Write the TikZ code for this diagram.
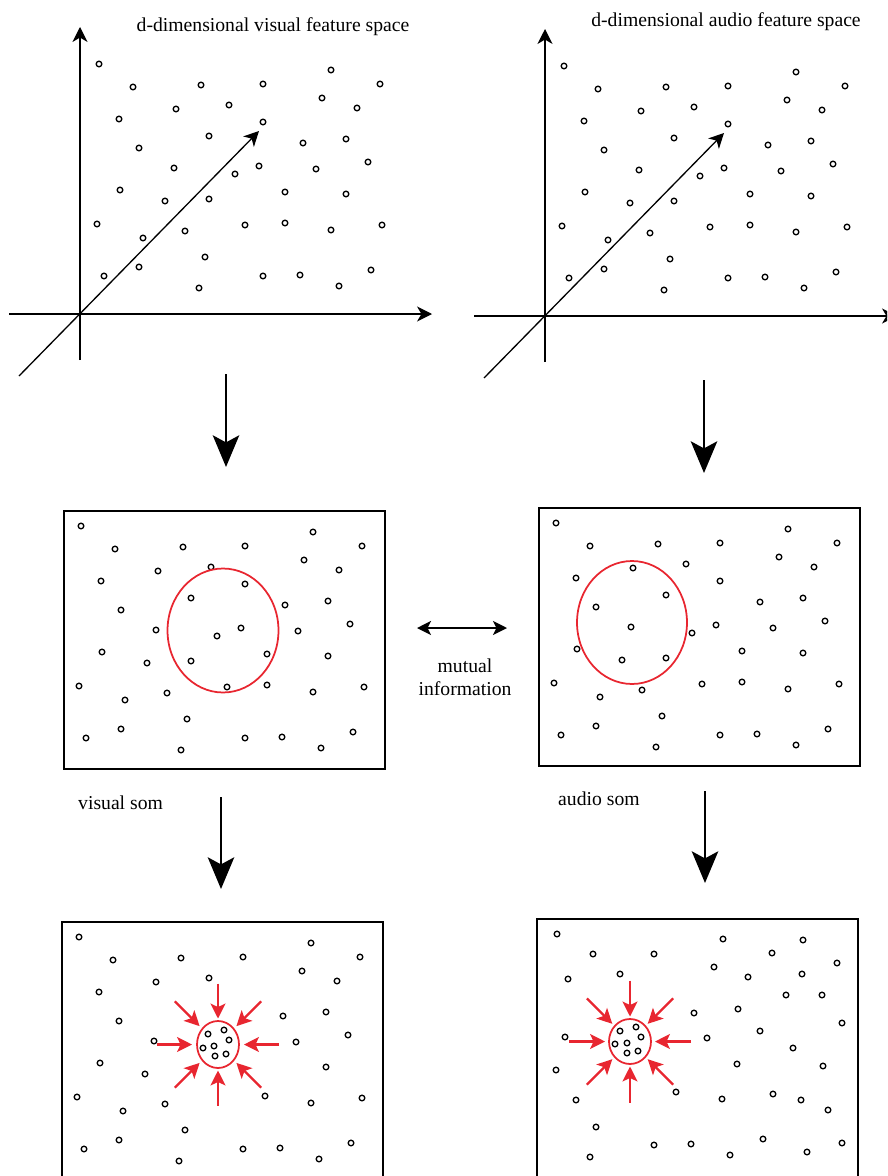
\documentclass[tikz,border=0pt]{standalone}
\usepackage{fontspec}
\setmainfont{Liberation Serif}
\usetikzlibrary{arrows.meta}
\definecolor{somred}{RGB}{232,38,48}
\newcommand\fieldrest{99/64,133/87,201/85,263/84,331/70,380/84,322/98,357/108,176/109,229/105,119/119,139/148,303/143,346/139,174/168,316/169,368/162,120/190,165/201,346/194,97/224,185/231,285/223,331/230,382/225,143/238,139/267,205/257,104/276,199/288,263/276,300/275,339/286,371/270}
\newcommand\fieldcore{263/122,209/136,235/174,259/166,209/199,285/192,245/225}
\newcommand\audiorest{557/934,593/954,654/954,723/939,803/940,772/953,837/963,568/979,620/974,714/967,748/977,802/974,786/995,822/995,694/1013,738/1009,842/1023,565/1037,707/1038,760/1031,793/1048,556/1070,737/1064,823/1066,576/1100,676/1092,722/1099,773/1094,801/1100,828/1110,596/1127,590/1157,654/1145,691/1144,730/1155,763/1139,807/1152,842/1143}
\newcommand\audiocore{620/1031,636/1027,641/1037,615/1044,627/1043,627/1053,638/1051}
\newcommand\visualcore{208/1034,224/1030,229/1040,203/1048,214/1046,215/1056,226/1054}

\begin{document}
\begin{tikzpicture}[x=0.02cm,y=-0.02cm,
  every node/.style={font=\fontsize{11.2}{13}\selectfont},
  pt/.style={draw,line width=0.75pt},
  axis/.style={line width=0.75pt,-{Stealth[length=8.5pt,width=8.5pt,inset=2.5pt]}},
  somframe/.style={draw,line width=0.9pt},
  ring/.style={draw=somred,line width=1pt},
  pull/.style={draw=somred,line width=1.3pt,-{Stealth[length=8.5pt,width=8.5pt,inset=2pt]}},
  stage/.style={line width=1.6pt,-{Stealth[length=18pt,width=15pt,inset=4pt]}},
  mutual/.style={line width=1.1pt,{Stealth[length=8pt,width=8pt,inset=2pt]}-{Stealth[length=8pt,width=8pt,inset=2pt]}}]
\useasboundingbox (0,0) rectangle (887,1176);
\clip (0,0) rectangle (887,1176);

\foreach \sx/\sy in {0/0,465/2}{
  \begin{scope}[shift={(\sx,\sy)}]
    \draw[axis] (80,360) -- (80,27);
    \draw[axis] (9,314) -- (432,314);
    \draw[axis] (19,376) -- (259,131);
    \foreach \x/\y in \fieldrest {\draw[pt] (\x,\y) circle[radius=1.6pt];}
    \foreach \x/\y in \fieldcore {\draw[pt] (\x,\y) circle[radius=1.6pt];}
  \end{scope}
}
\node (vtitle) at (273,27) {d-dimensional visual feature space};
\node (atitle) at (726,22) {d-dimensional audio feature space};

\foreach \sx/\sy in {-18/462,457/459,-20/873}{
  \begin{scope}[shift={(\sx,\sy)}]
    \foreach \x/\y in \fieldrest {\draw[pt] (\x,\y) circle[radius=1.6pt];}
  \end{scope}
}
\foreach \sx/\sy in {-18/462,457/459}{
  \begin{scope}[shift={(\sx,\sy)}]
    \foreach \x/\y in \fieldcore {\draw[pt] (\x,\y) circle[radius=1.6pt];}
  \end{scope}
}
\draw[somframe] (64,511) rectangle (385,769);
\draw[somframe] (539,508) rectangle (860,766);
\draw[somframe] (62,922) rectangle (383,1190);
\draw[somframe] (537,919) rectangle (858,1190);
\draw[ring] (223,630.5) ellipse[x radius=1.11cm,y radius=1.24cm];
\draw[ring] (632,622.5) ellipse[x radius=1.10cm,y radius=1.23cm];

\foreach \x/\y in \audiorest {\draw[pt] (\x,\y) circle[radius=1.6pt];}

\coordinate (vclus) at (218,1044.5);
\coordinate (aclus) at (630,1041.5);
\draw[ring] (vclus) ellipse[x radius=0.42cm,y radius=0.47cm];
\draw[ring] (aclus) ellipse[x radius=0.42cm,y radius=0.45cm];
\foreach \x/\y in \visualcore {\draw[pt] (\x,\y) circle[radius=1.6pt];}
\foreach \x/\y in \audiocore {\draw[pt] (\x,\y) circle[radius=1.6pt];}
\foreach \a in {0,45,...,315}{
  \draw[pull] ([shift={(\a:61)}]vclus) -- ([shift={(\a:26)}]vclus);
  \draw[pull] ([shift={(\a:61)}]aclus) -- ([shift={(\a:25)}]aclus);
}

\coordinate (vsp) at (226,374); \coordinate (vmap) at (226,467);
\coordinate (asp) at (704,380); \coordinate (amap) at (704,473);
\coordinate (vmid) at (221,797); \coordinate (vend) at (221,889);
\coordinate (amid) at (705,791); \coordinate (aend) at (705,883);
\draw[stage] (vsp) -- (vmap);
\draw[stage] (asp) -- (amap);
\draw[stage] (vmid) -- (vend);
\draw[stage] (amid) -- (aend);

\coordinate (mil) at (417,628); \coordinate (mir) at (507,628);
\draw[mutual] (mil) -- (mir);
\node (mi) [align=center] at (465,677) {mutual\\information};
\node (vsom) [anchor=west] at (72,803) {visual som};
\node (asom) [anchor=west] at (552,799) {audio som};
\end{tikzpicture}
\end{document}
